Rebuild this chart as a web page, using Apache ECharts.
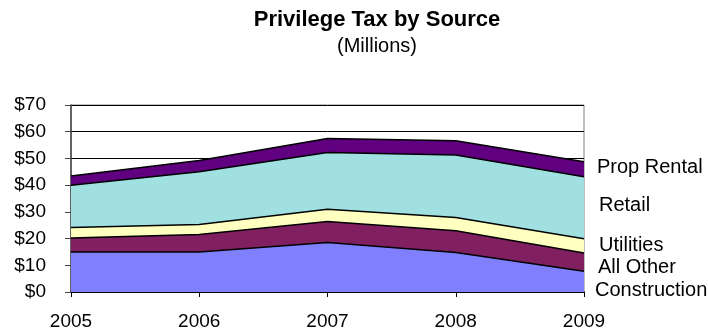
<!DOCTYPE html>
<html><head><meta charset="utf-8">
<script src="https://cdn.jsdelivr.net/npm/echarts@6/dist/echarts.min.js"></script>
<style>html,body{margin:0;padding:0;background:#fff}#c{width:708px;height:334px}</style>
</head><body><div id="c"></div>
<script>
var years = ['2005','2006','2007','2008','2009'];
var construction = [15, 15, 18.5, 14.75, 7.75];
var allOther = [5.25, 6.5, 7.9, 8.15, 6.85];
var utilities = [3.85, 3.75, 4.6, 5, 5.3];
var retail = [15.9, 19.75, 21.25, 23.35, 23.2];
var propRental = [3.4, 4.25, 5.25, 5.35, 5.65];
var yTicks = [0, 10, 20, 30, 40, 50, 60, 70];
var seriesNames = ['Construction', 'All Other', 'Utilities', 'Retail', 'Prop Rental'];

var font = 'Liberation Sans, Arial, sans-serif';
var chart = echarts.init(document.getElementById('c'));
function s(name, data, color) {
  return {name: name, type: 'line', stack: 'all', data: data, symbol: 'none',
    lineStyle: {color: '#000', width: 1.5}, areaStyle: {color: color, opacity: 1}, z: 2};
}
function lbl(text, x, y) {
  return {type: 'text', x: x, y: y, style: {text: text, font: '20px ' + font, fill: '#000', verticalAlign: 'middle'}};
}
chart.setOption({
  animation: false,
  title: {text: 'Privilege Tax by Source', subtext: '(Millions)', left: 372, textAlign: 'center', top: 4, itemGap: 5,
    textStyle: {fontFamily: font, fontSize: 22, fontWeight: 'bold', color: '#000'},
    subtextStyle: {fontFamily: font, fontSize: 20, color: '#000'}},
  grid: {left: 71, right: 124, top: 105, bottom: 42, show: true, borderColor: '#808080', borderWidth: 1},
  xAxis: {type: 'category', data: years, boundaryGap: false,
    axisLine: {lineStyle: {color: '#000', width: 1.5}},
    axisTick: {show: true, inside: false, length: 5, lineStyle: {color: '#000'}},
    axisLabel: {fontFamily: font, fontSize: 19, color: '#000', margin: 20},
    splitLine: {show: false}},
  yAxis: {type: 'value', min: 0, max: 70, interval: 10,
    axisLine: {show: true, lineStyle: {color: '#444', width: 1.5}},
    axisTick: {show: true, length: 6, lineStyle: {color: '#444'}},
    axisLabel: {fontFamily: font, fontSize: 19, color: '#000', margin: 25,
      formatter: function (v) { return yTicks.indexOf(v) >= 0 ? '$' + v : ''; }},
    splitLine: {show: true, lineStyle: {color: '#000', width: 1}}},
  series: [
    s(seriesNames[0], construction, '#8080FF'),
    s(seriesNames[1], allOther, '#802060'),
    s(seriesNames[2], utilities, '#FFFFC0'),
    s(seriesNames[3], retail, '#A0E0E0'),
    s(seriesNames[4], propRental, '#600080')
  ],
  graphic: [
    lbl(seriesNames[4], 597, 167),
    lbl(seriesNames[3], 599, 205),
    lbl(seriesNames[2], 599, 245),
    lbl(seriesNames[1], 598, 267),
    lbl(seriesNames[0], 595, 290)
  ]
});
</script></body></html>
